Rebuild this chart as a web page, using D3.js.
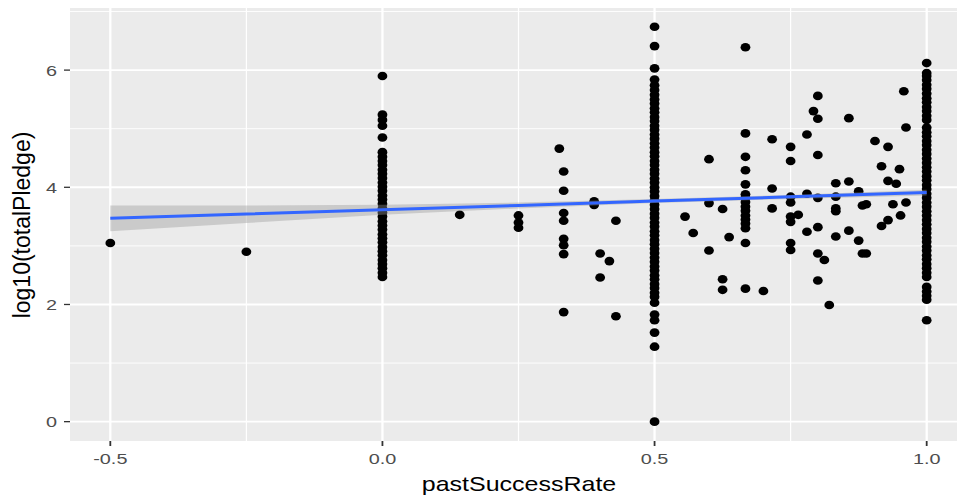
<!DOCTYPE html>
<html>
<head>
<meta charset="utf-8">
<script src="https://cdn.jsdelivr.net/npm/d3@7"></script>
<style>
  body { margin: 0; background: #fff; }
  text { font-family: "Liberation Sans", Arial, sans-serif; }
</style>
</head>
<body>
<svg id="chart" width="957" height="495"></svg>
<script>
// y values for the vertical columns of points
var colZero = [2.47, 2.54, 2.62, 2.69, 2.76, 2.84, 2.91, 2.98, 3.06, 3.13, 3.20, 3.28, 3.35, 3.42, 3.50, 3.57,
  3.64, 3.72, 3.79, 3.86, 3.94, 4.01, 4.08, 4.16, 4.23, 4.30, 4.38, 4.45, 4.52, 4.60, 4.85, 5.05, 5.15, 5.24, 5.90];
var colHalf = [0.00, 1.28, 1.52, 1.73, 1.83, 2.03, 2.13, 2.20, 2.28, 2.35, 2.43, 2.50, 2.58, 2.65, 2.73, 2.80,
  2.88, 2.95, 3.03, 3.10, 3.18, 3.25, 3.33, 3.40, 3.48, 3.55, 3.63, 3.70, 3.78, 3.85, 3.93, 4.00, 4.08, 4.15,
  4.23, 4.30, 4.38, 4.45, 4.53, 4.60, 4.68, 4.75, 4.83, 4.90, 4.98, 5.05, 5.13, 5.20, 5.28, 5.35, 5.43, 5.50,
  5.58, 5.66, 5.74, 5.84, 6.03, 6.41, 6.74];
var colOne = [1.73, 2.08, 2.15, 2.22, 2.30, 2.47, 2.54, 2.62, 2.69, 2.77, 2.84, 2.92, 2.99, 3.07, 3.14, 3.22,
  3.29, 3.37, 3.44, 3.52, 3.59, 3.67, 3.74, 3.82, 3.89, 3.97, 4.04, 4.12, 4.19, 4.27, 4.34, 4.42, 4.49, 4.57,
  4.64, 4.72, 4.79, 4.87, 4.94, 5.02, 5.15, 5.22, 5.30, 5.37, 5.45, 5.52, 5.60, 5.68, 5.75, 5.83, 5.90, 5.95, 6.12];
var colTwoThirds = [2.27, 3.05, 3.30, 3.38, 3.45, 3.52, 3.60, 3.67, 3.75, 3.82, 3.88, 4.05, 4.29, 4.52, 4.92, 6.39];
var colThird = [1.87, 2.86, 3.01, 3.12, 3.43, 3.56, 3.94, 4.27];

// the scattered points in between
var scatterX = [-0.5, -0.25, 0.142, 0.25, 0.25, 0.25, 0.325, 0.389, 0.389, 0.40, 0.40, 0.417, 0.429, 0.429,
  0.556, 0.571, 0.60, 0.60, 0.60, 0.625, 0.625, 0.625, 0.637, 0.70, 0.716, 0.716, 0.716,
  0.75, 0.75, 0.75, 0.75, 0.75, 0.75, 0.75, 0.75, 0.764, 0.78, 0.78, 0.78, 0.792,
  0.80, 0.80, 0.80, 0.80, 0.80, 0.80, 0.80, 0.812, 0.821, 0.833, 0.833, 0.833, 0.833, 0.833,
  0.857, 0.857, 0.857, 0.875, 0.875, 0.882, 0.889, 0.882, 0.889, 0.905, 0.917, 0.917,
  0.929, 0.929, 0.929, 0.938, 0.944, 0.950, 0.952, 0.958, 0.962, 0.962];
var scatterY = [3.05, 2.90, 3.53, 3.52, 3.40, 3.31, 4.66, 3.76, 3.70, 2.87, 2.46, 2.74, 3.43, 1.80,
  3.50, 3.22, 4.48, 3.73, 2.92, 3.63, 2.43, 2.25, 3.15, 2.23, 4.82, 3.98, 3.64,
  4.69, 4.45, 3.84, 3.74, 3.50, 3.41, 3.05, 2.93, 3.53, 4.90, 3.89, 3.24, 5.30,
  5.56, 5.17, 4.55, 3.82, 3.32, 2.87, 2.41, 2.76, 1.99, 4.07, 3.84, 3.64, 3.59, 3.16,
  5.18, 4.10, 3.26, 3.93, 3.09, 3.69, 3.71, 2.87, 2.87, 4.79, 4.36, 3.34,
  4.69, 4.11, 3.44, 3.71, 4.06, 4.31, 3.52, 5.64, 5.02, 3.74];

// linear fit and its confidence band
var fitX = [-0.5, -0.25, 0, 0.25, 0.5, 0.75, 1.0];
var fitY = [3.47, 3.544, 3.617, 3.69, 3.764, 3.837, 3.91];
var fitLow = [3.25, 3.39, 3.53, 3.64, 3.73, 3.80, 3.86];
var fitHigh = [3.69, 3.69, 3.70, 3.74, 3.80, 3.87, 3.96];

var xTicks = [-0.5, 0, 0.5, 1.0];
var xMinor = [-0.25, 0.25, 0.75];
var yTicks = [0, 2, 4, 6];
var yMinor = [1, 3, 5, 7];

var points = [];
colZero.forEach(function (v) { points.push([0, v]); });
colHalf.forEach(function (v) { points.push([0.5, v]); });
colOne.forEach(function (v) { points.push([1.0, v]); });
colTwoThirds.forEach(function (v) { points.push([0.667, v]); });
colThird.forEach(function (v) { points.push([0.333, v]); });
scatterX.forEach(function (v, i) { points.push([v, scatterY[i]]); });

var svg = d3.select("#chart");
var panel = { left: 70, top: 8, right: 957, bottom: 441 };

var x = d3.scaleLinear().domain([-0.575, 1.075]).range([69.5, 967.5]);
var y = d3.scaleLinear().domain([-0.33, 7.06]).range([441, 8]);

svg.append("defs").append("clipPath").attr("id", "clip")
  .append("rect").attr("x", panel.left).attr("y", panel.top)
  .attr("width", panel.right - panel.left).attr("height", panel.bottom - panel.top);

var g = svg.append("g").attr("clip-path", "url(#clip)");

g.append("rect").attr("x", panel.left).attr("y", panel.top)
  .attr("width", panel.right - panel.left).attr("height", panel.bottom - panel.top)
  .attr("fill", "#ebebeb");

// grid
g.selectAll(".ymin").data(yMinor).enter().append("line")
  .attr("x1", panel.left).attr("x2", panel.right)
  .attr("y1", d => y(d)).attr("y2", d => y(d))
  .attr("stroke", "#fff").attr("stroke-width", 0.9);
g.selectAll(".xmin").data(xMinor).enter().append("line")
  .attr("y1", panel.top).attr("y2", panel.bottom)
  .attr("x1", d => x(d)).attr("x2", d => x(d))
  .attr("stroke", "#fff").attr("stroke-width", 1.2);
g.selectAll(".ymaj").data(yTicks).enter().append("line")
  .attr("x1", panel.left).attr("x2", panel.right)
  .attr("y1", d => y(d)).attr("y2", d => y(d))
  .attr("stroke", "#fff").attr("stroke-width", 1.9);
g.selectAll(".xmaj").data(xTicks).enter().append("line")
  .attr("y1", panel.top).attr("y2", panel.bottom)
  .attr("x1", d => x(d)).attr("x2", d => x(d))
  .attr("stroke", "#fff").attr("stroke-width", 2.3);

// points
g.selectAll(".pt").data(points).enter().append("ellipse")
  .attr("cx", d => x(d[0])).attr("cy", d => y(d[1]))
  .attr("rx", 4.9).attr("ry", 4.3)
  .attr("fill", "#000");

// smooth
var band = fitX.map(function (v, i) { return [v, fitLow[i], fitHigh[i]]; });
g.append("path").datum(band)
  .attr("d", d3.area().x(d => x(d[0])).y0(d => y(d[1])).y1(d => y(d[2])))
  .attr("fill", "#999999").attr("fill-opacity", 0.4);
g.append("path").datum(fitX.map(function (v, i) { return [v, fitY[i]]; }))
  .attr("d", d3.line().x(d => x(d[0])).y(d => y(d[1])))
  .attr("fill", "none").attr("stroke", "#3366ff").attr("stroke-width", 3);

// axes
var xAxis = svg.append("g");
xAxis.selectAll("line").data(xTicks).enter().append("line")
  .attr("x1", d => x(d)).attr("x2", d => x(d))
  .attr("y1", panel.bottom).attr("y2", panel.bottom + 5)
  .attr("stroke", "#333").attr("stroke-width", 1.8);
xAxis.selectAll("text").data(xTicks).enter().append("text")
  .attr("transform", d => "translate(" + x(d) + "," + 464 + ") scale(1.28,1)")
  .attr("text-anchor", "middle").attr("font-size", 15.5).attr("fill", "#4d4d4d")
  .text(d => d.toFixed(1));

var yAxis = svg.append("g");
yAxis.selectAll("line").data(yTicks).enter().append("line")
  .attr("x1", panel.left - 6).attr("x2", panel.left)
  .attr("y1", d => y(d)).attr("y2", d => y(d))
  .attr("stroke", "#333").attr("stroke-width", 1.3);
yAxis.selectAll("text").data(yTicks).enter().append("text")
  .attr("transform", d => "translate(" + 57 + "," + (y(d) + 5.8) + ") scale(1.28,1)")
  .attr("text-anchor", "end").attr("font-size", 15.5).attr("fill", "#4d4d4d")
  .text(d => d);

svg.append("text")
  .attr("transform", "translate(519,491) scale(1.19,1)")
  .attr("text-anchor", "middle").attr("font-size", 21).attr("fill", "#000")
  .text("pastSuccessRate");
svg.append("text")
  .attr("transform", "translate(29.5,225) rotate(-90)")
  .attr("text-anchor", "middle").attr("font-size", 23).attr("fill", "#000")
  .text("log10(totalPledge)");
</script>
</body>
</html>
